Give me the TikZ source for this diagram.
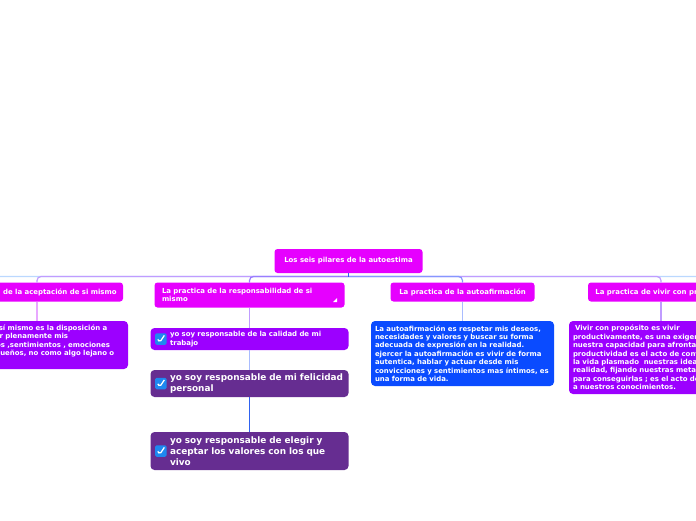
\documentclass[tikz,border=0pt]{standalone}
\usepackage{fontspec}
\setmainfont{DejaVu Sans}
\usetikzlibrary{positioning, calc}
\definecolor{pinkbox}{HTML}{E600FF}
\definecolor{violetbox}{HTML}{9C00FF}
\definecolor{bluebox}{HTML}{0A4BFF}
\definecolor{plumbox}{HTML}{662D91}
\definecolor{linkPink}{HTML}{E8A8FF}
\definecolor{linkViolet}{HTML}{C09CFF}
\definecolor{linkBlue}{HTML}{A9BCFF}
\definecolor{linkSky}{HTML}{BBD8FF}
\definecolor{linkDeep}{HTML}{2F62F0}
\definecolor{tickBlue}{HTML}{1E88F0}
\tikzstyle{pillar} = [rectangle, fill=pinkbox, text=white, rounded corners=3pt, align=left, font=\fontsize{6.95}{8.4}\selectfont\bfseries, inner sep=0pt, outer sep=0pt]
\tikzstyle{note} = [rectangle, fill=violetbox, text=white, rounded corners=4pt, align=left, font=\fontsize{6.95}{8.4}\selectfont\bfseries, inner xsep=4pt, inner ysep=0pt, outer sep=0pt]
\tikzstyle{task} = [rectangle, fill=plumbox, text=white, rounded corners=4pt, align=left, minimum width=198pt, text width=190pt, inner xsep=4pt, inner ysep=0pt, outer sep=0pt, font=\fontsize{8.9}{11}\selectfont\bfseries, execute at begin node={\leftskip=15.5pt}]
\tikzstyle{tick} = [rectangle, fill=tickBlue, rounded corners=1.5pt, minimum size=11.5pt, inner sep=0pt, path picture={\draw[white, line width=1.3pt] ($(path picture bounding box.center)+(-3.2,-0.4)$) -- ($(path picture bounding box.center)+(-1,-3)$) -- ($(path picture bounding box.center)+(3.4,3.6)$);}]
\tikzstyle{line} = [draw, line width=1.2pt, rounded corners=4pt]

\begin{document}
\begin{tikzpicture}[x=1pt, y=1pt]
	\path [use as bounding box, clip] (0,0) rectangle (696,-520);

	\node (root) [pillar, minimum width=148pt, minimum height=24pt, align=center] at (348.5,-261) {Los seis pilares de la autoestima};
	\coordinate [below=3.5pt of root] (bus);
	\coordinate (offLeft) at (-120,-296);
	\coordinate (offRight) at (820,-296);

	\node (accept) [pillar, below=9.5pt of root, xshift=-311.5pt, minimum width=172pt, minimum height=19pt] {La practica de la aceptación de si mismo};
	\node (resp) [pillar, below=9.5pt of root, xshift=-99pt, minimum width=190pt, text width=175pt, minimum height=25pt] {La practica de la responsabilidad de si\\mismo};
	\node (affirm) [pillar, below=9.5pt of root, xshift=114pt, minimum width=144pt, minimum height=19pt, align=center] {La practica de la autoafirmación};
	\node (purpose) [pillar, below=9.5pt of root, xshift=312.5pt, minimum width=146pt, minimum height=19pt] {La practica de vivir con propósito};

	\node (acceptText) [note, below=19.5pt of accept, text width=174pt, minimum height=48pt] {Aceptarse a sí mismo es la disposición a\\experimentar plenamente mis\\pensamientos ,sentimientos , emociones\\mis ideas y sueños, no como algo lejano o\\ajeno de mí.};
	\node (affirmText) [note, fill=bluebox, below=19.5pt of affirm, text width=175pt, minimum height=65pt] {La autoafirmación es respetar mis deseos,\\necesidades y valores y buscar su forma\\adecuada de expresión en la realidad.\\ejercer la autoafirmación es vivir de forma\\autentica, hablar y actuar desde mis\\convicciones y sentimientos mas íntimos, es\\una forma de vida.};
	\node (purposeText) [note, below=19.5pt of purpose, text width=176pt, minimum height=73pt] {\hspace*{2pt}Vivir con propósito es vivir\\productivamente, es una exigencia de\\nuestra capacidad para afrontar la\\productividad es el acto de convertir\\la vida plasmado\ \ nuestras ideas en la\\realidad, fijando nuestras metas y\\para conseguirlas ; es el acto de\\a nuestros conocimientos.};

	\node (taskA) [task, fill=violetbox, below=20.5pt of resp, minimum height=22pt, font=\fontsize{6.95}{8.4}\selectfont\bfseries] {yo soy responsable de la calidad de mi\\trabajo};
	\node (taskB) [task, below=20pt of taskA, minimum height=27pt] {yo soy responsable de mi felicidad\\personal};
	\node (taskC) [task, below=35pt of taskB, minimum height=38pt] {yo soy responsable de elegir y\\aceptar los valores con los que\\vivo};

	\node (tickA) [tick, right=4.5pt of taskA.west] {};
	\node (tickB) [tick, right=4.5pt of taskB.west] {};
	\node (tickC) [tick, right=4.5pt of taskC.west] {};

	\fill [white] ($(resp.south east)+(-7.5,9.5)$) -- ($(resp.south east)+(-7.5,5.5)$) -- ($(resp.south east)+(-11.5,5.5)$) -- cycle;

	% order matters, nearest branch ends up on top
	\path [line, draw=linkSky] (bus) -| (offLeft);
	\path [line, draw=linkSky] (bus) -| (offRight);
	\path [line, draw=linkViolet] (bus) -| (accept);
	\path [line, draw=linkViolet] (bus) -| (purpose);
	\path [line, draw=linkViolet!80!blue] (bus) -| (resp);
	\path [line, draw=linkBlue!80!blue] (bus) -| (affirm);
	\path [line, draw=linkDeep] (root) -- (bus);

	\path [line, draw=linkPink] (accept) -- (acceptText);
	\path [line, draw=linkBlue] (affirm) -- (affirmText);
	\path [line, draw=linkViolet] (purpose) -- (purposeText);
	\path [line, draw=linkViolet] (resp) -- (taskA);
	\path [line, draw=linkBlue] (taskA) -- (taskB);
	\path [line, draw=linkDeep] (taskB) -- (taskC);

\end{tikzpicture}
\end{document}
